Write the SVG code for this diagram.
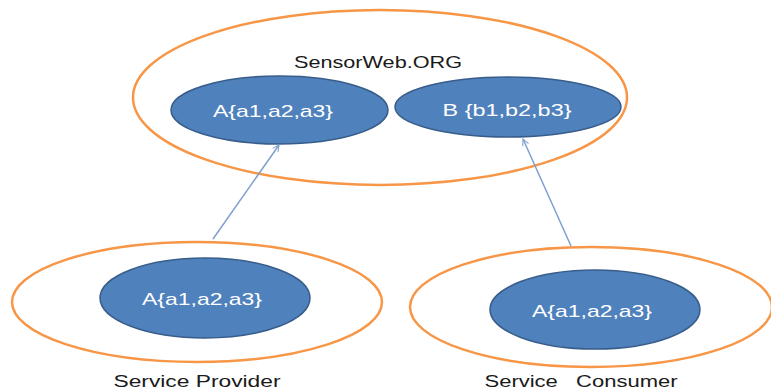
<svg xmlns="http://www.w3.org/2000/svg" width="771" height="392" viewBox="0 0 771 392">
<defs>
<style>
.outer{fill:#ffffff;stroke:#F79646;stroke-width:2.5}
.inner{fill:#4F81BD;stroke:#385D8A;stroke-width:1.5}
.lbl{font-family:"Liberation Sans",Arial,sans-serif;font-size:17px;fill:#1a1a1a;text-anchor:middle}
.bot{font-size:16px}
.ntx{font-family:"Liberation Sans",Arial,sans-serif;font-size:17px;fill:#ffffff;text-anchor:middle}
.conn{stroke:#7F9FCF;stroke-width:1.5;fill:none;marker-end:url(#arr)}
</style>
<marker id="arr" viewBox="0 0 10 10" refX="9" refY="5" markerWidth="8" markerHeight="8" orient="auto" markerUnits="userSpaceOnUse">
<path d="M1,1 L9,5 L1,9" fill="none" stroke="#7F9FCF" stroke-width="1.3"/>
</marker>
</defs>
<rect width="771" height="392" fill="#ffffff"/>
<g id="sensorweb">
<ellipse class="outer" cx="380" cy="97.5" rx="247" ry="87.5"/>
<text class="lbl" x="378" y="68" textLength="168" lengthAdjust="spacingAndGlyphs">SensorWeb.ORG</text>
</g>
<g id="nodeA">
<ellipse class="inner" cx="279.5" cy="110" rx="108.5" ry="34"/>
<text class="ntx" x="273" y="117" textLength="120" lengthAdjust="spacingAndGlyphs">A{a1,a2,a3}</text>
</g>
<g id="nodeB">
<ellipse class="inner" cx="508" cy="107" rx="113" ry="30"/>
<text class="ntx" x="507" y="116" textLength="129" lengthAdjust="spacingAndGlyphs">B {b1,b2,b3}</text>
</g>
<g id="provider">
<ellipse class="outer" cx="197" cy="302" rx="185" ry="60"/>
<text class="lbl bot" x="197" y="387" textLength="167" lengthAdjust="spacingAndGlyphs">Service Provider</text>
</g>
<g id="providerA">
<ellipse class="inner" cx="205" cy="298" rx="105" ry="40"/>
<text class="ntx" x="202" y="305" textLength="120" lengthAdjust="spacingAndGlyphs">A{a1,a2,a3}</text>
</g>
<g id="consumer">
<ellipse class="outer" cx="591" cy="307" rx="181" ry="60"/>
<text class="lbl bot" x="581" y="387" textLength="193" lengthAdjust="spacingAndGlyphs" xml:space="preserve">Service   Consumer</text>
</g>
<g id="consumerA">
<ellipse class="inner" cx="595" cy="309.5" rx="105" ry="39.5"/>
<text class="ntx" x="592" y="317" textLength="120" lengthAdjust="spacingAndGlyphs">A{a1,a2,a3}</text>
</g>
<g id="connectors">
<line class="conn" x1="213" y1="239" x2="279" y2="145"/>
<line class="conn" x1="571" y1="246" x2="523" y2="139"/>
</g>
</svg>
